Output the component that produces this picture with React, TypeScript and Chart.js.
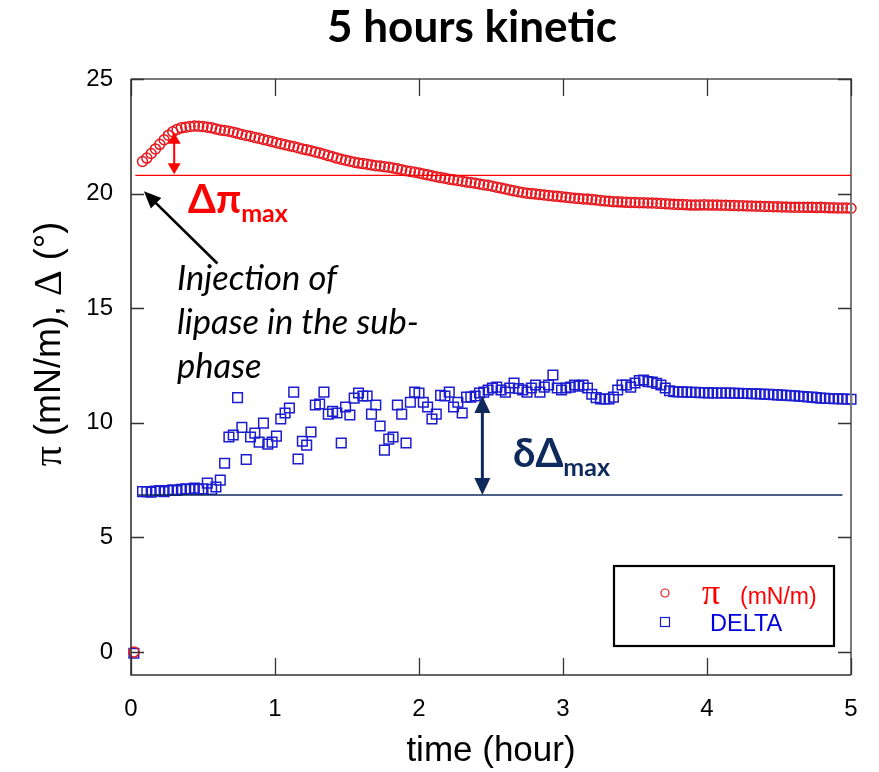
import React, { useEffect, useRef } from "react";
import { Chart, registerables } from "chart.js";

Chart.register(...registerables);

// ---------- data ----------
const TIME = [
  0.02,
  0.08, 0.11, 0.14, 0.17, 0.2, 0.23, 0.26, 0.29, 0.32, 0.35,
  0.38, 0.41, 0.44, 0.47, 0.5, 0.53, 0.56, 0.59, 0.62, 0.65,
  0.68, 0.71, 0.74, 0.77, 0.8, 0.83, 0.86, 0.89, 0.92, 0.95,
  0.98, 1.01, 1.04, 1.07, 1.1, 1.13, 1.16, 1.19, 1.22, 1.25,
  1.28, 1.31, 1.34, 1.37, 1.4, 1.43, 1.46, 1.49, 1.52, 1.55,
  1.58, 1.61, 1.64, 1.67, 1.7, 1.73, 1.76, 1.79, 1.82, 1.85,
  1.88, 1.91, 1.94, 1.97, 2.0, 2.03, 2.06, 2.09, 2.12, 2.15,
  2.18, 2.21, 2.24, 2.27, 2.3, 2.33, 2.36, 2.39, 2.42, 2.45,
  2.48, 2.51, 2.54, 2.57, 2.6, 2.63, 2.66, 2.69, 2.72, 2.75,
  2.78, 2.81, 2.84, 2.87, 2.9, 2.93, 2.96, 2.99, 3.02, 3.05,
  3.08, 3.11, 3.14, 3.17, 3.2, 3.23, 3.26, 3.29, 3.32, 3.35,
  3.38, 3.41, 3.44, 3.47, 3.5, 3.53, 3.56, 3.59, 3.62, 3.65,
  3.68, 3.71, 3.74, 3.77, 3.8, 3.83, 3.86, 3.89, 3.92, 3.95,
  3.98, 4.01, 4.04, 4.07, 4.1, 4.13, 4.16, 4.19, 4.22, 4.25,
  4.28, 4.31, 4.34, 4.37, 4.4, 4.43, 4.46, 4.49, 4.52, 4.55,
  4.58, 4.61, 4.64, 4.67, 4.7, 4.73, 4.76, 4.79, 4.82, 4.85,
  4.88, 4.91, 4.94, 4.97, 5.0,
];

const PI_VALUES = [
  0.0,
  21.4, 21.55, 21.75, 21.95, 22.15, 22.35, 22.55, 22.7, 22.8, 22.87,
  22.9, 22.93, 22.95, 22.94, 22.93, 22.9, 22.87, 22.82, 22.78, 22.75,
  22.72, 22.68, 22.63, 22.58, 22.54, 22.5, 22.45, 22.41, 22.36, 22.32,
  22.27, 22.22, 22.18, 22.13, 22.09, 22.05, 22.0, 21.95, 21.91, 21.87,
  21.82, 21.77, 21.72, 21.66, 21.61, 21.55, 21.5, 21.46, 21.41, 21.37,
  21.34, 21.31, 21.28, 21.25, 21.22, 21.2, 21.17, 21.15, 21.12, 21.08,
  21.04, 21.0, 20.97, 20.93, 20.9, 20.86, 20.82, 20.78, 20.74, 20.7,
  20.67, 20.63, 20.6, 20.57, 20.54, 20.51, 20.48, 20.45, 20.42, 20.39,
  20.36, 20.32, 20.28, 20.24, 20.2, 20.16, 20.12, 20.08, 20.05, 20.02,
  20.0, 19.98, 19.96, 19.94, 19.92, 19.9, 19.88, 19.86, 19.84, 19.82,
  19.8, 19.79, 19.77, 19.76, 19.74, 19.72, 19.7, 19.68, 19.67, 19.65,
  19.64, 19.63, 19.62, 19.61, 19.61, 19.6, 19.6, 19.59, 19.59, 19.58,
  19.57, 19.56, 19.55, 19.54, 19.53, 19.52, 19.51, 19.5, 19.5, 19.5,
  19.51, 19.5, 19.5, 19.5, 19.49, 19.49, 19.48, 19.48, 19.47, 19.47,
  19.46, 19.46, 19.45, 19.45, 19.44, 19.44, 19.43, 19.43, 19.42, 19.42,
  19.41, 19.41, 19.41, 19.4, 19.4, 19.4, 19.39, 19.4, 19.39, 19.38,
  19.38, 19.37, 19.37, 19.37, 19.36,
];

const DELTA_VALUES = [
  -0.05,
  7.0, 7.0, 6.98, 7.02, 7.05, 7.0, 7.05, 7.08, 7.05, 7.1,
  7.12, 7.1, 7.15, 7.1, 7.12, 7.37, 7.1, 7.2, 7.5, 8.24,
  9.38, 9.47, 11.1, 9.8, 8.4, 9.38, 9.55, 9.16, 9.99, 9.07,
  9.16, 9.42, 10.17, 10.43, 10.65, 11.34, 8.42, 9.2, 9.03, 9.6,
  10.78, 10.82, 11.34, 10.38, 10.5, 10.43, 9.12, 10.69, 10.34, 11.08,
  11.3, 11.17, 11.17, 10.38, 10.78, 9.86, 8.81, 9.29, 9.38, 10.78,
  10.38, 9.12, 10.9, 11.34, 11.3, 10.9, 10.69, 10.17, 10.38, 11.2,
  11.17, 11.34, 10.69, 10.9, 10.43, 11.12, 11.12, 11.17, 11.3, 11.34,
  11.43, 11.52, 11.56, 11.43, 11.34, 11.52, 11.74, 11.5, 11.43, 11.34,
  11.52, 11.65, 11.34, 11.56, 11.65, 12.09, 11.52, 11.43, 11.52, 11.56,
  11.65, 11.6, 11.65, 11.52, 11.25, 11.1, 11.04, 11.04, 11.04, 11.12,
  11.43, 11.65, 11.65, 11.56, 11.74, 11.85, 11.87, 11.8, 11.78, 11.72,
  11.65, 11.52, 11.4, 11.36, 11.35, 11.35, 11.34, 11.33, 11.33, 11.32,
  11.32, 11.31, 11.31, 11.3, 11.3, 11.3, 11.3, 11.29, 11.29, 11.28,
  11.28, 11.27, 11.27, 11.26, 11.25, 11.24, 11.23, 11.22, 11.21, 11.2,
  11.19, 11.18, 11.16, 11.15, 11.13, 11.12, 11.1, 11.08, 11.07, 11.06,
  11.05, 11.05, 11.04, 11.04, 11.03,
];

const X_TICKS = [0, 1, 2, 3, 4, 5];
const Y_TICKS = [0, 5, 10, 15, 20, 25];
const X_RANGE = [0, 5];
const Y_RANGE = [-1, 25];

// ---------- text ----------
const TITLE = "5 hours kinetic";
const X_TITLE = "time (hour)";
const Y_TITLE_PARTS = ["π", " (mN/m), ", "Δ", " (°)"];
const INJECTION_LINES = ["Injection of", "lipase in the sub-", "phase"];
const PI_LABEL = ["Δπ", "max"];
const DELTA_LABEL = ["δΔ", "max"];
const LEGEND_PI = ["π", "(mN/m)"];
const LEGEND_DELTA = "DELTA";

// ---------- annotation anchors (data units) ----------
const PI_BASELINE = { value: 20.8, from: 0.03, to: 5.0 };
const PI_ARROW = { t: 0.3, from: 20.85, to: 22.65 };
const DELTA_BASELINE = { value: 6.85, from: 0.05, to: 4.94 };
const DELTA_ARROW = { t: 2.44, from: 6.85, to: 11.17 };
const INJECTION_ARROW = { fromT: 0.6, fromV: 16.95, toT: 0.09, toV: 20.1 };
const INJECTION_TEXT = { t: 0.32, v: 15.79 };
const PI_LABEL_POS = { t: 0.396, v: 19.15 };
const DELTA_LABEL_POS = { t: 2.653, v: 8.07 };

const SANS = '"Liberation Sans", Arial, sans-serif';
const SERIF = '"Liberation Serif", "Times New Roman", serif';
const LATO = 'Lato, "Open Sans", sans-serif';

const RED = "#ff0000";
const MARK_RED = "#e8161c";
const MARK_BLUE = "#1c1cd0";
const NAVY = "#0e2a5c";

function arrowHead(ctx: CanvasRenderingContext2D, tx: number, ty: number, angle: number, len: number, half: number) {
  const c = Math.cos(angle);
  const s = Math.sin(angle);
  ctx.beginPath();
  ctx.moveTo(tx, ty);
  ctx.lineTo(tx - len * c + half * s, ty - len * s - half * c);
  ctx.lineTo(tx - len * c - half * s, ty - len * s + half * c);
  ctx.closePath();
  ctx.fill();
}

function doubleArrow(ctx: CanvasRenderingContext2D, x: number, yTop: number, yBot: number, len: number, half: number, lw: number, color: string) {
  ctx.strokeStyle = color;
  ctx.fillStyle = color;
  ctx.lineWidth = lw;
  ctx.beginPath();
  ctx.moveTo(x, yTop + len - 1);
  ctx.lineTo(x, yBot - len + 1);
  ctx.stroke();
  arrowHead(ctx, x, yTop, -Math.PI / 2, len, half);
  arrowHead(ctx, x, yBot, Math.PI / 2, len, half);
}

function subLabel(ctx: CanvasRenderingContext2D, x: number, y: number, parts: string[], color: string, mainSize: number, subSize: number, drop: number) {
  ctx.fillStyle = color;
  ctx.textAlign = "left";
  ctx.textBaseline = "alphabetic";
  ctx.font = `bold ${mainSize}px ${LATO}`;
  ctx.fillText(parts[0], x, y);
  const w = ctx.measureText(parts[0]).width;
  ctx.font = `bold ${subSize}px ${LATO}`;
  ctx.fillText(parts[1], x + w, y + drop);
}

const decorPlugin = {
  id: "decor",
  afterDatasetsDraw(chart: any) {
    const ctx: CanvasRenderingContext2D = chart.ctx;
    const xs = chart.scales.x;
    const ys = chart.scales.y;
    const { left, right, top, bottom } = chart.chartArea;
    const px = (t: number) => xs.getPixelForValue(t);
    const py = (v: number) => ys.getPixelForValue(v);

    ctx.save();

    // frame
    ctx.lineCap = "butt";
    ctx.strokeStyle = "#7a7a7a";
    ctx.lineWidth = 2;
    ctx.beginPath();
    ctx.moveTo(left, top);
    ctx.lineTo(right, top);
    ctx.lineTo(right, bottom);
    ctx.stroke();
    ctx.strokeStyle = "#333";
    ctx.lineWidth = 1.6;
    ctx.beginPath();
    ctx.moveTo(left, top);
    ctx.lineTo(left, bottom);
    ctx.lineTo(right, bottom);
    ctx.stroke();

    // inner tick marks
    ctx.strokeStyle = "#333";
    ctx.lineWidth = 1.3;
    Y_TICKS.forEach((v) => {
      const y = Math.round(py(v)) + 0.5;
      ctx.beginPath();
      ctx.moveTo(left, y);
      ctx.lineTo(left + 13, y);
      ctx.moveTo(right, y);
      ctx.lineTo(right - 13, y);
      ctx.stroke();
    });
    X_TICKS.forEach((t) => {
      const x = Math.round(px(t)) + 0.5;
      ctx.beginPath();
      ctx.moveTo(x, bottom);
      ctx.lineTo(x, bottom - 17);
      ctx.moveTo(x, top);
      ctx.lineTo(x, top + 17);
      ctx.stroke();
    });

    // pi baseline + arrow
    ctx.strokeStyle = RED;
    ctx.lineWidth = 1.2;
    ctx.beginPath();
    ctx.moveTo(px(PI_BASELINE.from), py(PI_BASELINE.value));
    ctx.lineTo(px(PI_BASELINE.to), py(PI_BASELINE.value));
    ctx.stroke();
    doubleArrow(ctx, px(PI_ARROW.t), py(PI_ARROW.to), py(PI_ARROW.from), 11, 6.5, 2, RED);
    subLabel(ctx, px(PI_LABEL_POS.t), py(PI_LABEL_POS.v), PI_LABEL, RED, 40, 25, 9);

    // delta baseline + arrow
    ctx.strokeStyle = NAVY;
    ctx.lineWidth = 1.4;
    ctx.beginPath();
    ctx.moveTo(px(DELTA_BASELINE.from), py(DELTA_BASELINE.value));
    ctx.lineTo(px(DELTA_BASELINE.to), py(DELTA_BASELINE.value));
    ctx.stroke();
    doubleArrow(ctx, px(DELTA_ARROW.t), py(DELTA_ARROW.to), py(DELTA_ARROW.from), 17, 8, 3, NAVY);
    subLabel(ctx, px(DELTA_LABEL_POS.t), py(DELTA_LABEL_POS.v), DELTA_LABEL, NAVY, 40, 25, 9);

    // injection arrow
    const ax0 = px(INJECTION_ARROW.fromT);
    const ay0 = py(INJECTION_ARROW.fromV);
    const ax1 = px(INJECTION_ARROW.toT);
    const ay1 = py(INJECTION_ARROW.toV);
    const ang = Math.atan2(ay1 - ay0, ax1 - ax0);
    ctx.strokeStyle = "#000";
    ctx.fillStyle = "#000";
    ctx.lineWidth = 2.6;
    ctx.beginPath();
    ctx.moveTo(ax0, ay0);
    ctx.lineTo(ax1 - 14 * Math.cos(ang), ay1 - 14 * Math.sin(ang));
    ctx.stroke();
    arrowHead(ctx, ax1, ay1, ang, 17, 7.5);

    // injection text
    ctx.fillStyle = "#000";
    ctx.font = `italic 34.5px ${LATO}`;
    ctx.textAlign = "left";
    ctx.textBaseline = "alphabetic";
    INJECTION_LINES.forEach((line, i) => {
      ctx.fillText(line, px(INJECTION_TEXT.t), py(INJECTION_TEXT.v) + i * 44);
    });

    // title
    ctx.font = `bold 44px ${LATO}`;
    ctx.textAlign = "center";
    ctx.textBaseline = "middle";
    ctx.fillText(TITLE, 472, 28);

    // y axis title
    ctx.save();
    ctx.translate(50, 344);
    ctx.rotate(-Math.PI / 2);
    ctx.textBaseline = "middle";
    ctx.textAlign = "left";
    const fonts = Y_TITLE_PARTS.map((p, i) => (i % 2 === 0 ? `40px ${SERIF}` : `36px ${SANS}`));
    let total = 0;
    const widths = Y_TITLE_PARTS.map((p, i) => {
      ctx.font = fonts[i];
      const w = ctx.measureText(p).width;
      total += w;
      return w;
    });
    let cx = -total / 2;
    Y_TITLE_PARTS.forEach((p, i) => {
      ctx.font = fonts[i];
      ctx.fillText(p, cx, 0);
      cx += widths[i];
    });
    ctx.restore();

    // legend
    const bw = 220;
    const bh = 80;
    const bx = right - 17 - bw;
    const by = bottom - 29 - bh;
    ctx.fillStyle = "#fff";
    ctx.fillRect(bx, by, bw, bh);
    ctx.strokeStyle = "#000";
    ctx.lineWidth = 2.2;
    ctx.strokeRect(bx, by, bw, bh);
    ctx.strokeStyle = MARK_RED;
    ctx.lineWidth = 1.2;
    ctx.beginPath();
    ctx.arc(bx + 51, by + 27, 4, 0, Math.PI * 2);
    ctx.stroke();
    ctx.strokeStyle = MARK_BLUE;
    ctx.strokeRect(bx + 46.5, by + 51.5, 9, 9);
    ctx.textAlign = "left";
    ctx.textBaseline = "alphabetic";
    ctx.fillStyle = RED;
    ctx.font = `36px ${SERIF}`;
    ctx.fillText(LEGEND_PI[0], bx + 88, by + 38);
    ctx.font = `23px ${SANS}`;
    ctx.fillText(LEGEND_PI[1], bx + 126, by + 38);
    ctx.fillStyle = "#0000dd";
    ctx.font = `23.5px ${SANS}`;
    ctx.fillText(LEGEND_DELTA, bx + 96, by + 65);

    ctx.restore();
  },
};

export default function App() {
  const canvasRef = useRef<HTMLCanvasElement | null>(null);

  useEffect(() => {
    if (!canvasRef.current) return;
    const piPoints = TIME.map((t, i) => ({ x: t, y: PI_VALUES[i] }));
    const deltaPoints = TIME.map((t, i) => ({ x: t, y: DELTA_VALUES[i] }));
    const chart = new Chart(canvasRef.current, {
      type: "scatter",
      data: {
        datasets: [
          {
            label: "π (mN/m)",
            data: piPoints,
            pointStyle: "circle",
            pointRadius: 5,
            borderColor: MARK_RED,
            backgroundColor: "rgba(0,0,0,0)",
            borderWidth: 1.5,
            showLine: false,
            clip: false,
          },
          {
            label: "DELTA",
            data: deltaPoints,
            pointStyle: "rect",
            pointRadius: 6.8,
            borderColor: MARK_BLUE,
            backgroundColor: "rgba(0,0,0,0)",
            borderWidth: 1.5,
            showLine: false,
            clip: false,
          },
        ],
      },
      options: {
        animation: false,
        responsive: false,
        events: [],
        layout: { padding: { left: 0, top: 79, right: 28, bottom: 0 } },
        plugins: { legend: { display: false }, tooltip: { enabled: false }, title: { display: false } },
        scales: {
          x: {
            type: "linear",
            min: X_RANGE[0],
            max: X_RANGE[1],
            afterBuildTicks: (s: any) => {
              s.ticks = X_TICKS.map((v) => ({ value: v }));
            },
            afterFit: (s: any) => {
              s.height = 97;
            },
            grid: { display: false, drawTicks: false },
            border: { display: false },
            ticks: { color: "#000", font: { family: SANS, size: 24 }, padding: 20, maxRotation: 0 },
            title: {
              display: true,
              text: X_TITLE,
              color: "#000",
              font: { family: SANS, size: 35 },
              padding: { top: 0, bottom: 0 },
            },
          },
          y: {
            type: "linear",
            min: Y_RANGE[0],
            max: Y_RANGE[1],
            afterBuildTicks: (s: any) => {
              s.ticks = Y_TICKS.map((v) => ({ value: v }));
            },
            afterFit: (s: any) => {
              s.width = 131;
            },
            grid: { display: false, drawTicks: false },
            border: { display: false },
            ticks: { color: "#000", font: { family: SANS, size: 24 }, padding: 18 },
          },
        },
      },
      plugins: [decorPlugin],
    });
    return () => chart.destroy();
  }, []);

  return (
    <div style={{ position: "absolute", left: 0, top: 0, width: 879, height: 772, background: "#fff" }}>
      <canvas ref={canvasRef} width={879} height={772} style={{ display: "block" }} />
    </div>
  );
}
